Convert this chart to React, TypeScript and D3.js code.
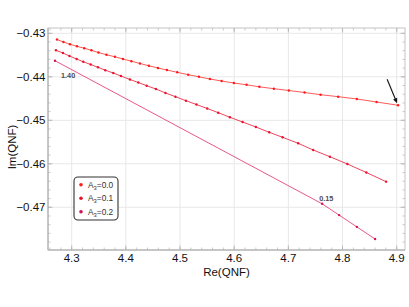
import React from 'react';
import * as d3 from 'd3';

// Re / Im of the QNF for each A3 value
const reA0 = [4.2729, 4.2849, 4.2969, 4.3098, 4.3232, 4.3365, 4.3494, 4.3642, 4.3799, 4.3947, 4.4103, 4.4260, 4.4426, 4.4592, 4.4758, 4.4948, 4.5151, 4.5349, 4.5552, 4.5768, 4.5994, 4.6229, 4.6465, 4.6732, 4.7009, 4.7299, 4.7594, 4.7919, 4.8264, 4.8627, 4.9026];
const imA0 = [-0.43143, -0.43200, -0.43253, -0.43299, -0.43343, -0.43391, -0.43441, -0.43492, -0.43540, -0.43591, -0.43641, -0.43694, -0.43747, -0.43798, -0.43844, -0.43897, -0.43952, -0.44000, -0.44051, -0.44097, -0.44143, -0.44184, -0.44230, -0.44274, -0.44315, -0.44361, -0.44411, -0.44457, -0.44510, -0.44579, -0.44655];

const reA1 = [4.2710, 4.2839, 4.2959, 4.3092, 4.3214, 4.3351, 4.3485, 4.3620, 4.3768, 4.3910, 4.4076, 4.4229, 4.4384, 4.4555, 4.4731, 4.4915, 4.5109, 4.5303, 4.5502, 4.5705, 4.5921, 4.6155, 4.6400, 4.6646, 4.6893, 4.7181, 4.7458, 4.7766, 4.8089, 4.8439, 4.8804];
const imA1 = [-0.43391, -0.43453, -0.43522, -0.43591, -0.43655, -0.43717, -0.43782, -0.43848, -0.43913, -0.43982, -0.44062, -0.44131, -0.44205, -0.44280, -0.44372, -0.44457, -0.44549, -0.44637, -0.44729, -0.44825, -0.44931, -0.45039, -0.45154, -0.45276, -0.45391, -0.45529, -0.45683, -0.45837, -0.46005, -0.46200, -0.46411];

const reA2 = [4.2692, 4.7624, 4.7937, 4.8264, 4.8601];
const imA2 = [-0.4363, -0.4692, -0.4718, -0.4745, -0.4773];

const legendLabels = ['0.0', '0.1', '0.2'];
const lineColors = ['#ff5a5a', '#f0445e', '#e8588a'];
const dotColors = ['#ff1a1a', '#e8142e', '#d0105a'];

const xTicks = [4.3, 4.4, 4.5, 4.6, 4.7, 4.8, 4.9];
const yTicks = [-0.43, -0.44, -0.45, -0.46, -0.47];

// annotations: point labels on the A3=0.2 curve and the arrow
const pointLabels = [
  { idx: 0, text: '1.40', dx: 6, dy: 17 },
  { idx: 1, text: '0.15', dx: -3, dy: -2.5 },
];
const arrowFrom = [4.8823, -0.44057];
const arrowTo = [4.9007, -0.44609];

const W = 409;
const H = 307;
const margin = { top: 28, right: 4, bottom: 57, left: 48 };

const App: React.FC = () => {
  const x = d3.scaleLinear().domain([4.2563, 4.9153]).range([margin.left, W - margin.right]);
  const y = d3.scaleLinear().domain([-0.47982, -0.42878]).range([H - margin.bottom, margin.top]);

  const series = [
    { re: reA0, im: imA0 },
    { re: reA1, im: imA1 },
    { re: reA2, im: imA2 },
  ].map((s) => s.re.map((r, i) => [r, s.im[i]] as [number, number]));

  const line = d3.line<[number, number]>().x((d) => x(d[0])).y((d) => y(d[1]));

  const x0 = margin.left;
  const x1 = W - margin.right;
  const y0 = H - margin.bottom;
  const y1 = margin.top;

  const xMinor = d3.range(4.26, 4.915, 0.02);
  const yMinor = d3.range(-0.478, -0.428, 0.002);

  const fmtY = (v: number) => d3.format('.2f')(v).replace('-', '\u2212');

  const font = "'Liberation Sans', Arial, sans-serif";

  // arrow head
  const ax1 = x(arrowFrom[0]), ay1 = y(arrowFrom[1]);
  const ax2 = x(arrowTo[0]), ay2 = y(arrowTo[1]);
  const ang = Math.atan2(ay2 - ay1, ax2 - ax1);
  const hl = 5, hw = 2.2;
  const head = [
    [ax2, ay2],
    [ax2 - hl * Math.cos(ang) + hw * Math.sin(ang), ay2 - hl * Math.sin(ang) - hw * Math.cos(ang)],
    [ax2 - hl * Math.cos(ang) - hw * Math.sin(ang), ay2 - hl * Math.sin(ang) + hw * Math.cos(ang)],
  ];

  const legX = 74, legY = 177, legW = 44, legH = 43;

  return (
    <div style={{ position: 'fixed', left: 0, top: 0 }}>
      <svg width={W} height={H} style={{ display: 'block', background: '#fff' }} fontFamily={font}>
        {/* grid */}
        {xTicks.map((t) => (
          <line key={'gx' + t} x1={x(t)} x2={x(t)} y1={y0} y2={y1} stroke="#e8e8e8" strokeWidth={1} />
        ))}
        {yTicks.map((t) => (
          <line key={'gy' + t} x1={x0} x2={x1} y1={y(t)} y2={y(t)} stroke="#e8e8e8" strokeWidth={1} />
        ))}

        {/* ticks on all four sides */}
        {xMinor.map((t, i) => (
          <g key={'xm' + i} stroke="#bdbdbd" strokeWidth={0.8}>
            <line x1={x(t)} x2={x(t)} y1={y0} y2={y0 - 2.5} />
            <line x1={x(t)} x2={x(t)} y1={y1} y2={y1 + 2.5} />
          </g>
        ))}
        {yMinor.map((t, i) => (
          <g key={'ym' + i} stroke="#bdbdbd" strokeWidth={0.8}>
            <line x1={x0} x2={x0 + 2.5} y1={y(t)} y2={y(t)} />
            <line x1={x1} x2={x1 - 2.5} y1={y(t)} y2={y(t)} />
          </g>
        ))}
        {xTicks.map((t) => (
          <g key={'xt' + t} stroke="#b0b0b0" strokeWidth={0.8}>
            <line x1={x(t)} x2={x(t)} y1={y0} y2={y0 - 4.5} />
            <line x1={x(t)} x2={x(t)} y1={y1} y2={y1 + 4.5} />
          </g>
        ))}
        {yTicks.map((t) => (
          <g key={'yt' + t} stroke="#b0b0b0" strokeWidth={0.8}>
            <line x1={x0} x2={x0 + 4.5} y1={y(t)} y2={y(t)} />
            <line x1={x1} x2={x1 - 4.5} y1={y(t)} y2={y(t)} />
          </g>
        ))}

        {/* frame */}
        <rect x={x0} y={y1} width={x1 - x0} height={y0 - y1} fill="none" stroke="#c4c4c4" strokeWidth={1} />
        <line x1={x0} x2={x0} y1={y1} y2={y0} stroke="#aaaaaa" strokeWidth={1} />
        <line x1={x0} x2={x1} y1={y0} y2={y0} stroke="#aaaaaa" strokeWidth={1} />

        {/* tick labels */}
        {xTicks.map((t) => (
          <text key={'xl' + t} x={x(t)} y={y0 + 11.5} textAnchor="middle" fontSize={11.5} fill="#111">
            {d3.format('.1f')(t)}
          </text>
        ))}
        {yTicks.map((t) => (
          <text key={'yl' + t} x={x0 - 2.5} y={y(t) + 4} textAnchor="end" fontSize={11.5} fill="#111">
            {fmtY(t)}
          </text>
        ))}

        {/* axis titles */}
        <text x={(x0 + x1) / 2} y={275.5} textAnchor="middle" fontSize={11.5} fill="#111">Re(QNF)</text>
        <text transform={`translate(15.5,${(y0 + y1) / 2 + 8}) rotate(-90)`} textAnchor="middle" fontSize={11.5} fill="#111">Im(QNF)</text>

        {/* curves */}
        {series.map((s, k) => (
          <g key={'s' + k}>
            <path d={line(s) || ''} fill="none" stroke={lineColors[k]} strokeWidth={1} />
            {s.map((p, i) => (
              <circle key={i} cx={x(p[0])} cy={y(p[1])} r={1.2} fill={dotColors[k]} />
            ))}
          </g>
        ))}

        {/* point labels */}
        {pointLabels.map((l) => (
          <text
            key={l.text}
            x={x(series[2][l.idx][0]) + l.dx}
            y={y(series[2][l.idx][1]) + l.dy}
            fontSize={7.3}
            fontWeight="bold"
            fill="#554a48"
          >
            {l.text}
          </text>
        ))}

        {/* arrow */}
        <line x1={ax1} y1={ay1} x2={ax2 - 3 * Math.cos(ang)} y2={ay2 - 3 * Math.sin(ang)} stroke="#111" strokeWidth={1.1} />
        <polygon points={head.map((p) => p.join(',')).join(' ')} fill="#111" />

        {/* legend */}
        <rect x={legX} y={legY} width={legW} height={legH} rx={4} fill="#fff" stroke="#333" strokeWidth={1.1} />
        {legendLabels.map((lab, i) => (
          <g key={'lg' + i}>
            <circle cx={legX + 7} cy={legY + 7.7 + i * 13.5} r={1.8} fill={dotColors[i]} />
            <text x={legX + 14} y={legY + 10.5 + i * 13.5} fontSize={8.3} fill="#333">
              A<tspan fontSize={5.8} dy={2}>3</tspan>
              <tspan dy={-2}>={lab}</tspan>
            </text>
          </g>
        ))}
      </svg>
    </div>
  );
};

export default App;
